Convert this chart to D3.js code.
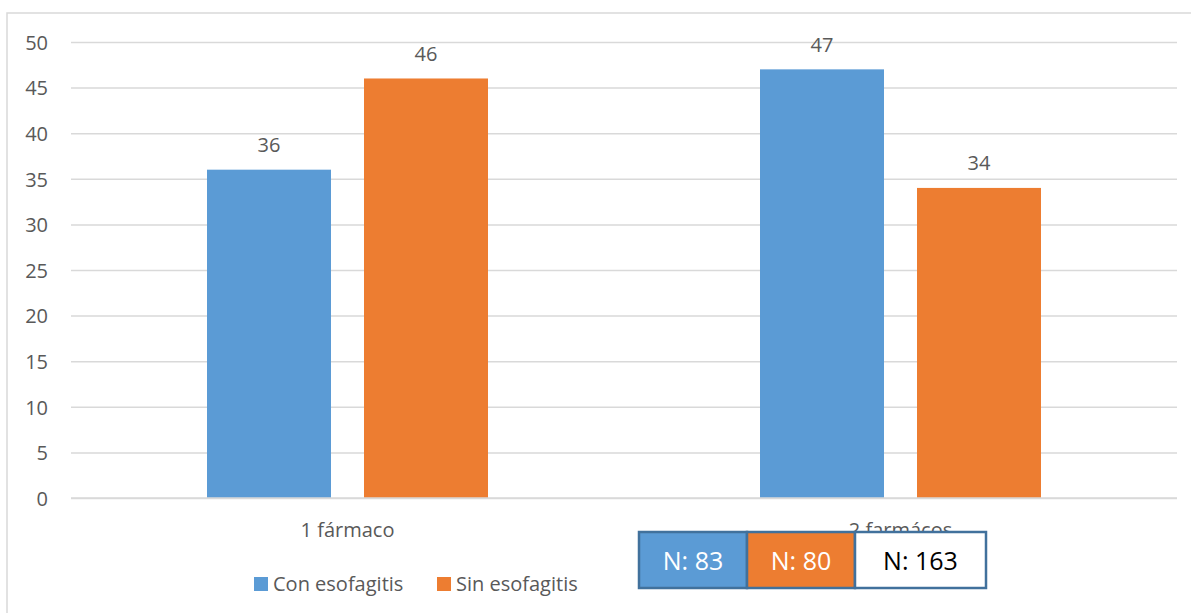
<!DOCTYPE html>
<html>
<head>
<meta charset="utf-8">
<script src="https://cdn.jsdelivr.net/npm/d3@7"></script>
<style>
  html, body { margin: 0; padding: 0; background: #fff; }
  svg { display: block; }
  text { font-family: "Open Sans", "Noto Sans", sans-serif; }
</style>
</head>
<body>
<svg id="chart" width="1191" height="613"></svg>
<script>
// Chart data
const categories = ["1 fármaco", "2 farmácos"];
const seriesNames = ["Con esofagitis", "Sin esofagitis"];
const conEsofagitis = [36, 47];
const sinEsofagitis = [46, 34];
const yTicks = [0, 5, 10, 15, 20, 25, 30, 35, 40, 45, 50];
const nLabels = ["N: 83", "N: 80", "N: 163"];

const colors = ["#5B9BD5", "#ED7D31"];
const textColor = "#595959";
const gridColor = "#D9D9D9";

const svg = d3.select("#chart");
const margin = { left: 71, right: 14, top: 42, bottom: 115 };
const W = 1191, H = 613;

// Chart frame
svg.append("rect")
  .attr("x", 7).attr("y", 13)
  .attr("width", W + 10).attr("height", H + 10)
  .attr("fill", "none").attr("stroke", gridColor).attr("stroke-width", 1.5);

const x0 = d3.scaleBand()
  .domain(categories)
  .range([margin.left, W - margin.right])
  .paddingInner(0).paddingOuter(0);

const y = d3.scaleLinear().domain([0, 50]).range([H - margin.bottom, margin.top]);

// Horizontal gridlines with tick labels
const yAxis = d3.axisLeft(y).tickValues(yTicks).tickSize(-(W - margin.right - margin.left)).tickPadding(23);
const gy = svg.append("g").attr("transform", `translate(${margin.left},0)`).call(yAxis);
gy.select(".domain").remove();
gy.selectAll(".tick line").attr("stroke", gridColor).attr("stroke-width", 1.5);
gy.selectAll(".tick text")
  .attr("fill", textColor)
  .style("font-size", "20px")
  .attr("dy", "0.36em");

// Bars within each group: two bars of fixed width separated by a gap, centred in the band
const groupWidth = x0.bandwidth();
const barW = 124, gap = 33;
const x1 = d3.scaleOrdinal().domain(seriesNames)
  .range([groupWidth / 2 - gap / 2 - barW, groupWidth / 2 + gap / 2]);

const rows = categories.map((c, i) => ({ cat: c, vals: [conEsofagitis[i], sinEsofagitis[i]] }));

const groups = svg.append("g").selectAll("g").data(rows).join("g")
  .attr("transform", d => `translate(${x0(d.cat)},0)`);

groups.selectAll("rect").data(d => d.vals.map((v, j) => ({ name: seriesNames[j], v, j })))
  .join("rect")
  .attr("x", d => x1(d.name))
  .attr("width", barW)
  .attr("y", d => y(d.v))
  .attr("height", d => y(0) - y(d.v))
  .attr("fill", d => colors[d.j]);

groups.selectAll("text.val").data(d => d.vals.map((v, j) => ({ name: seriesNames[j], v, j })))
  .join("text").attr("class", "val")
  .attr("x", d => x1(d.name) + barW / 2)
  .attr("y", d => y(d.v) - 17.5)
  .attr("text-anchor", "middle")
  .attr("fill", textColor)
  .style("font-size", "20px")
  .text(d => d.v);

// Baseline
svg.append("line")
  .attr("x1", margin.left).attr("x2", W - margin.right)
  .attr("y1", y(0)).attr("y2", y(0))
  .attr("stroke", gridColor).attr("stroke-width", 1.5);

// Category labels
svg.append("g").selectAll("text").data(categories).join("text")
  .attr("x", d => x0(d) + x0.bandwidth() / 2)
  .attr("y", 537)
  .attr("text-anchor", "middle")
  .attr("fill", textColor)
  .style("font-size", "20px")
  .text(d => d);

// Legend
const legendX = [254, 437];
const lg = svg.append("g").selectAll("g").data(seriesNames).join("g")
  .attr("transform", (d, i) => `translate(${legendX[i]},577)`);
lg.append("rect").attr("width", 14).attr("height", 14).attr("fill", (d, i) => colors[i]);
lg.append("text").attr("x", 19).attr("y", 13.5)
  .attr("fill", textColor).style("font-size", "20px").text(d => d);

// Sample size boxes
const boxX = [639, 747, 855, 986];
const boxFill = [colors[0], colors[1], "#FFFFFF"];
const boxText = ["#FFFFFF", "#FFFFFF", "#000000"];
const nb = svg.append("g").selectAll("g").data(nLabels).join("g");
nb.append("rect")
  .attr("x", (d, i) => boxX[i]).attr("y", 532)
  .attr("width", (d, i) => boxX[i + 1] - boxX[i]).attr("height", 56)
  .attr("fill", (d, i) => boxFill[i])
  .attr("stroke", "#41719C").attr("stroke-width", 2.5);
nb.append("text")
  .attr("x", (d, i) => (boxX[i] + boxX[i + 1]) / 2)
  .attr("y", 570)
  .attr("text-anchor", "middle")
  .attr("fill", (d, i) => boxText[i])
  .style("font-size", "25px")
  .text(d => d);
</script>
</body>
</html>
